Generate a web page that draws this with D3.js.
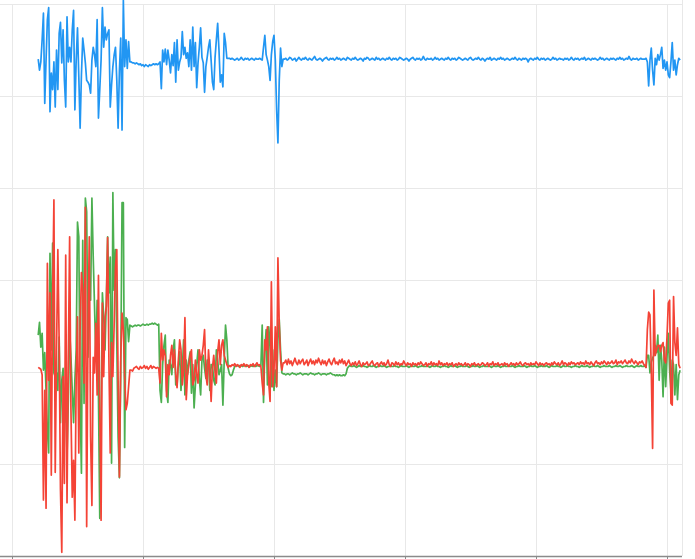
<!DOCTYPE html>
<html><head><meta charset="utf-8">
<script src="https://cdn.jsdelivr.net/npm/d3@7"></script>
<style>html,body{margin:0;padding:0;background:#fff;overflow:hidden}</style>
</head><body><svg id="chart" width="695" height="559"></svg>
<script>
// sample index of the first value in every series
const firstSample = 20;
const xTicks = [0, 100, 200, 300, 400, 500];
const yTicks = [30, 20, 10, 0, -10, -20];

const blue = [
24.0, 22.8, 23.7, 26.1, 29.0, 19.2, 23.9, 28.3, 29.6, 18.3,
22.5, 20.7, 23.7, 18.8, 25.0, 20.7, 26.8, 28.0, 23.6, 27.2,
21.7, 18.8, 28.6, 23.7, 25.3, 23.7, 27.2, 29.3, 18.5, 23.9,
27.4, 22.1, 16.5, 22.3, 26.3, 25.0, 23.6, 21.7, 21.5, 21.2,
20.3, 23.9, 25.3, 24.5, 23.2, 28.3, 17.6, 20.7, 23.9, 29.6,
25.3, 27.5, 26.1, 26.8, 27.2, 18.8, 21.2, 23.2, 24.5, 25.3,
21.7, 16.5, 22.8, 26.3, 16.3, 30.4, 23.2, 26.1, 23.0, 25.9,
23.7,
23.7, 23.6, 23.6, 23.5, 23.6, 23.5, 23.4, 23.5, 23.3, 23.4, 23.2, 23.4, 23.3, 23.2, 23.4, 23.3, 23.4, 23.5, 23.4, 23.5, 23.4, 23.5,
23.7, 20.8, 25.0, 23.7, 25.1, 23.4, 25.0, 23.9, 22.5, 24.5,
23.3, 25.8, 21.5, 26.1, 22.8, 23.7, 24.2, 27.0, 24.5, 25.3,
24.1, 24.7, 23.2, 26.1, 22.8, 27.5, 23.2, 25.8, 20.9, 23.6,
25.3, 27.4, 24.2, 23.6, 20.4, 23.2, 24.2, 25.3, 26.1, 23.9,
21.5, 20.7, 24.2, 26.1, 27.9, 25.0, 21.5, 22.3, 21.0, 26.8,
25.8, 24.1, 24.1,
24.1, 24.0, 24.1, 24.0, 23.9, 24.0, 24.1, 23.9, 24.0, 24.2, 24.0, 23.9, 24.1, 24.0, 24.1, 23.9, 24.0, 24.1, 24.0, 23.9, 24.1, 24.0, 24.0, 24.1, 24.0,
23.9, 25.3, 26.6, 24.5, 23.9, 23.2, 21.7, 24.5, 25.9, 26.6, 23.9, 18.5, 14.9, 21.7, 25.2, 23.2, 24.0,
24.0, 24.1, 23.9, 24.0, 24.2, 24.1, 23.9, 24.0, 24.1, 23.8, 24.0, 24.2, 24.0, 23.9, 24.1, 24.0, 24.2, 24.0, 23.9, 24.1, 24.0, 23.9, 24.1, 24.3, 24.0,
23.9, 24.0, 24.1, 24.0, 23.8, 24.0, 24.1, 24.2, 24.0, 23.9, 24.1, 24.0, 24.1, 23.9, 24.0, 24.2, 24.0, 24.1, 23.9, 24.0, 24.1, 24.0, 23.9, 24.2, 24.1,
24.0, 23.9, 24.1, 24.0, 24.2, 24.0, 23.9, 24.0, 24.1, 24.0, 23.8, 24.1, 24.0, 24.2, 24.1, 23.9, 24.0, 24.1, 24.0, 23.9, 24.2, 24.0, 24.1, 23.9, 24.0,
24.1, 24.0, 23.9, 24.1, 24.0, 24.2, 24.0, 23.9, 24.1, 24.0, 24.1, 23.9, 24.0, 24.2, 24.1, 24.0, 23.9, 24.0, 24.1, 24.0, 23.8, 24.0, 24.1, 24.2, 24.0,
23.9, 24.1, 24.0, 24.1, 23.9, 24.0, 24.3, 24.0, 23.9, 24.1, 24.0, 24.0, 24.1, 23.9, 24.0, 24.2, 24.0, 24.1, 23.9, 24.0, 24.1, 24.0, 23.9, 24.1, 24.0,
24.2, 24.0, 23.9, 24.1, 24.0, 24.1, 23.9, 24.0, 24.2, 24.1, 24.0, 23.9, 24.0, 24.1, 24.0, 23.9, 24.1, 24.2, 24.0, 23.9, 24.0, 24.1, 24.0, 24.2, 24.0,
23.9, 24.1, 24.0, 23.8, 24.0, 24.1, 24.0, 24.2, 23.9, 24.0, 24.1, 24.0, 23.9, 24.1, 24.0, 24.2, 24.0, 24.1, 23.9, 24.0, 24.1, 24.0, 23.9, 24.0, 24.1,
24.0, 24.2, 24.0, 23.9, 24.1, 24.0, 23.9, 24.1, 24.0, 24.1, 24.0, 23.7, 24.0, 24.1, 24.0, 23.9, 24.1, 24.0, 24.2, 24.0, 23.9, 24.1, 24.0, 24.1, 23.9,
24.0, 24.1, 24.0, 23.9, 24.0, 24.2, 24.0, 24.1, 23.9, 24.0, 24.1, 24.0, 24.0, 23.9, 24.1, 24.0, 24.1, 23.9, 24.0, 24.2, 24.0, 23.9, 24.1, 24.0, 24.1,
23.9, 24.0, 24.1, 24.0, 24.2, 23.9, 24.0, 24.1, 24.0, 23.9, 24.1, 24.0, 24.1, 24.0, 23.9, 24.0, 24.2, 24.0, 24.1, 23.9, 24.0, 24.1, 24.0, 23.9, 24.1,
24.0, 24.1, 24.0, 23.9, 24.1, 24.0, 24.2, 24.0, 24.1, 23.9, 24.0, 24.1, 24.0, 24.3, 24.0, 23.9, 24.1, 24.0, 24.0, 24.1, 23.9, 24.0, 24.1, 24.0, 24.0,
24.0, 24.1, 23.7, 21.1, 23.9, 25.2, 22.8, 21.2, 24.1, 23.4, 24.5, 23.9, 24.5, 25.3, 23.0, 23.9, 22.8, 23.7, 22.3, 22.0, 23.7, 25.8, 22.8, 23.9, 22.3, 23.4, 24.1, 23.9
];

const green = [
-6.0, -4.6, -7.3, -5.8, -9.8, -7.9, -12.0, -16.3, -18.8, 2.9,
-7.6, 4.0, -10.1, -10.5, -10.1, -12.0, -6.2, -15.5, -10.9, -9.6,
-15.5, -12.0, -19.2, -13.0, -5.4, -8.4, -12.0, -15.5, -10.9, -7.6,
6.3, 4.7, -13.0, -21.0, 4.3, -13.4, 8.9, 7.4, -8.4, -1.1,
-2.2, 8.9, 2.5, -2.9, -8.4, -2.2, -12.7, -25.9, -15.5, -1.4,
-4.0, -7.6, -2.2, 4.7, -1.4, 2.5, -19.9, 9.5, -1.1, 3.3,
-6.8, -17.1, -21.5, -10.1, 8.4, 8.4, -18.2, -4.1, -4.3, -6.7,
-4.9,
-5.0, -5.1, -5.0, -4.9, -5.0, -4.9, -4.9, -5.0, -4.9, -4.8, -4.9, -4.9, -4.8, -4.9, -4.8, -4.8, -4.7, -4.8, -4.7, -4.8, -4.9, -4.8,
-12.0, -13.3, -9.2, -7.1, -6.0, -12.0, -13.3, -8.7, -9.2, -10.3,
-7.6, -6.5, -11.4, -11.4, -9.2, -7.8, -12.0, -9.8, -6.5, -12.5,
-8.7, -10.3, -8.7, -7.8, -12.3, -9.2, -13.9, -11.4, -9.2, -7.6,
-10.7, -12.5, -8.7, -8.2, -9.6, -10.7, -8.7, -8.7, -12.0, -9.2,
-9.2, -10.9, -11.4, -7.6, -8.7, -10.3, -9.8, -9.2, -13.6, -8.7,
-4.9, -6.5, -9.6,
-10.2, -10.4, -10.3, -9.8, -9.4, -9.3, -9.3, -9.4, -9.3, -9.3, -9.4, -9.3, -9.3, -9.4, -9.3, -9.4, -9.4, -9.3, -9.4, -9.3, -9.4, -9.3, -9.3, -9.4, -9.3,
-4.9, -13.3, -7.6, -5.4, -11.4, -5.1, -7.1, -11.6, -7.6, -12.0, -9.8, -11.6, -6.5, -4.3, -7.6, -10.1, -10.2,
-10.2, -10.3, -10.2, -10.2, -10.3, -10.2, -10.1, -10.2, -10.2, -10.3, -10.2, -10.2, -10.1, -10.2, -10.3, -10.2, -10.2, -10.2, -10.3, -10.2, -10.1, -10.2, -10.2, -10.3,
-10.2, -10.2, -10.1, -10.2, -10.3, -10.2, -10.2, -10.2, -10.3, -10.2, -10.2, -10.1, -10.2, -10.3, -10.3, -10.4, -10.3, -10.4, -10.3, -10.4, -10.4, -10.3, -10.4, -10.2,
-9.6, -9.4, -9.3, -9.4, -9.4, -9.3, -9.4, -9.5, -9.4, -9.3, -9.4, -9.4, -9.3, -9.4, -9.4, -9.5, -9.4, -9.3, -9.4, -9.4, -9.3, -9.4, -9.5, -9.4, -9.4,
-9.3, -9.4, -9.4, -9.3, -9.4, -9.5, -9.4, -9.4, -9.3, -9.4, -9.4, -9.3, -9.4, -9.4, -9.5, -9.4, -9.3, -9.4, -9.4, -9.4, -9.3, -9.4, -9.5, -9.4, -9.3,
-9.4, -9.4, -9.3, -9.4, -9.5, -9.4, -9.4, -9.3, -9.4, -9.4, -9.4, -9.3, -9.4, -9.5, -9.4, -9.3, -9.4, -9.4, -9.3, -9.4, -9.4, -9.5, -9.4, -9.4, -9.3,
-9.4, -9.4, -9.5, -9.4, -9.3, -9.4, -9.4, -9.3, -9.4, -9.5, -9.4, -9.4, -9.3, -9.4, -9.4, -9.4, -9.3, -9.4, -9.5, -9.4, -9.4, -9.3, -9.4, -9.4, -9.3,
-9.4, -9.5, -9.4, -9.4, -9.3, -9.4, -9.4, -9.4, -9.3, -9.4, -9.5, -9.4, -9.3, -9.4, -9.4, -9.3, -9.4, -9.5, -9.4, -9.4, -9.3, -9.4, -9.4, -9.3, -9.4,
-9.4, -9.3, -9.4, -9.5, -9.4, -9.4, -9.3, -9.4, -9.4, -9.4, -9.3, -9.4, -9.5, -9.4, -9.4, -9.3, -9.4, -9.4, -9.3, -9.4, -9.5, -9.4, -9.4, -9.3, -9.4,
-9.4, -9.4, -9.3, -9.4, -9.5, -9.4, -9.3, -9.4, -9.4, -9.4, -9.3, -9.4, -9.4, -9.5, -9.4, -9.3, -9.4, -9.4, -9.3, -9.4, -9.4, -9.5, -9.4, -9.4, -9.3,
-9.4, -9.4, -9.5, -9.4, -9.3, -9.4, -9.4, -9.4, -9.3, -9.4, -9.5, -9.4, -9.4, -9.3, -9.4, -9.4, -9.3, -9.4, -9.5, -9.4, -9.4, -9.3, -9.4, -9.4, -9.4,
-9.3, -9.4, -9.5, -9.4, -9.4, -9.3, -9.4, -9.4, -9.3, -9.4, -9.5, -9.4, -9.4, -9.3, -9.4, -9.4, -9.4, -9.3, -9.4, -9.5, -9.4, -9.3, -9.4, -9.4, -9.3,
-9.4, -9.4,
-9.3, -9.5, -8.2, -8.2, -10.1, -8.9, -8.5, -8.2, -7.1, -7.9, -6.0, -10.9, -7.1, -8.7, -12.7, -7.3, -11.6, -8.4, -5.8, -9.8, -12.0, -8.7, -9.2, -12.5, -9.2, -13.0, -10.3, -9.8
];

const red = [
-9.5, -9.6, -9.7, -10.3, -23.9, -12.0, -24.8, 1.8, -10.9, -1.4,
-21.2, -2.2, 8.7, -20.9, -7.6, 3.3, -6.8, -22.8, -29.6, -10.5,
-22.1, 2.7, -24.2, -8.4, 4.7, -14.1, -23.6, -19.6, -26.1, -10.5,
-4.0, -18.8, -5.4, 0.8, -1.1, -11.2, 7.9, -26.8, -5.4, 4.7,
-17.1, -24.5, -8.4, -10.1, -4.7, -12.5, 0.5, -14.1, -26.1, -2.5,
-10.5, -4.0, -2.9, 4.6, -9.0, -18.8, -6.8, -10.5, -4.7, 1.4,
3.3, -10.9, -21.4, -8.4, -3.6, -5.4, -10.5, -14.1, -13.4, -11.6,
-9.8,
-9.8, -9.9, -9.6, -9.5, -9.4, -9.6, -9.7, -9.4, -9.6, -9.5, -9.3, -9.6, -9.4, -9.7, -9.5, -9.3, -9.6, -9.4, -9.5, -9.6, -9.5, -9.6,
-11.2, -5.8, -8.7, -7.6, -8.2, -12.7, -9.2, -10.3, -8.2, -7.1,
-9.5, -7.6, -10.3, -11.7, -8.7, -6.5, -7.6, -11.4, -9.8, -4.1,
-13.0, -10.3, -9.2, -8.2, -7.6, -11.4, -10.9, -8.7, -10.3, -11.2,
-7.6, -8.7, -8.2, -7.1, -5.4, -10.3, -11.4, -7.6, -9.8, -13.2,
-9.6, -8.2, -10.0, -11.2, -7.8, -6.5, -9.2, -7.1, -6.5, -8.2,
-8.7, -9.2, -9.5,
-9.3, -9.4, -9.2, -9.3, -9.1, -9.4, -9.2, -9.3, -9.5, -9.2, -9.3, -9.1, -9.4, -9.2, -9.3, -9.5, -9.2, -9.3, -9.1, -9.4, -9.2, -9.0, -9.3, -9.2, -9.4,
-11.2, -12.5, -6.5, -7.6, -5.1, -11.2, -13.2, -0.2, -11.6, -9.8, -5.1, -11.6, 2.4, -4.9, -8.7, -9.8, -9.0,
-9.0, -8.7, -9.2, -8.6, -9.1, -8.8, -9.3, -8.9, -8.5, -9.0, -9.2, -8.7, -9.1, -8.8, -8.6, -9.2, -9.0, -8.7, -9.3, -8.9, -8.6, -9.1, -8.8, -9.2, -8.7,
-9.0, -8.5, -8.9, -9.2, -8.7, -9.1, -8.8, -9.3, -8.9, -8.6, -9.0, -9.2, -8.8, -8.5, -9.1, -8.9, -9.2, -8.7, -9.0, -8.6, -9.1, -8.8, -9.3, -9.0, -8.7,
-9.1, -9.3, -9.0, -9.2, -8.9, -9.3, -9.1, -8.8, -9.2, -9.4, -9.0, -9.2, -9.1, -8.9, -9.3, -9.2, -9.0, -8.8, -9.2, -9.3, -9.1, -9.0, -9.4, -9.1, -8.9,
-9.2, -9.0, -9.3, -9.1, -8.7, -9.2, -9.4, -9.0, -9.1, -9.3, -8.9, -9.2, -9.0, -9.3, -9.1, -9.2, -8.8, -9.1, -9.3, -9.0, -9.2, -9.1, -9.4, -9.0, -9.2,
-9.1, -9.3, -9.0, -9.2, -8.9, -9.1, -9.3, -9.2, -9.0, -9.4, -9.1, -9.2, -8.9, -9.3, -9.0, -9.2, -9.1, -9.3, -8.8, -9.2, -9.0, -9.3, -9.1, -9.2, -9.0,
-9.3, -9.1, -9.2, -9.0, -9.4, -9.2, -9.1, -9.3, -9.0, -9.2, -9.1, -9.3, -9.2, -9.0, -9.3, -9.1, -9.2, -9.4, -9.1, -9.2, -9.0, -9.3, -9.2, -9.1, -9.3,
-9.2, -9.0, -9.1, -9.3, -9.2, -9.0, -9.4, -9.1, -9.2, -8.9, -9.3, -9.1, -9.2, -9.0, -9.3, -9.2, -9.1, -9.3, -9.0, -9.2, -9.1, -9.4, -9.2, -9.0, -9.2,
-9.1, -9.3, -9.0, -9.2, -9.1, -8.9, -9.2, -9.3, -9.1, -9.0, -9.2, -9.1, -9.3, -9.0, -9.2, -9.1, -9.2, -8.9, -9.1, -9.3, -9.0, -9.2, -9.1, -9.3, -9.1,
-9.0, -9.2, -9.1, -9.3, -9.0, -9.2, -8.9, -9.1, -9.2, -9.0, -9.3, -9.1, -8.8, -9.2, -9.0, -9.1, -9.3, -9.0, -9.2, -8.9, -9.1, -9.0, -9.2, -9.1, -9.0,
-9.2, -8.9, -9.1, -9.0, -9.2, -8.8, -9.1, -9.0, -9.2, -8.9, -9.1, -9.3, -9.0, -8.8, -9.1, -9.0, -9.2, -8.9, -9.1, -8.8, -9.0, -9.2, -8.9, -9.1, -9.0,
-8.8, -9.1, -9.0, -8.7, -9.2, -8.9, -9.0, -8.8, -9.1, -8.9, -8.7, -9.0, -9.1, -8.8, -9.0, -8.6, -8.9, -9.1, -8.8, -9.0, -9.2, -8.9, -9.0, -8.8, -9.1,
-9.3, -9.5, -5.4, -3.5, -3.8, -9.8, -18.3, -1.1, -8.2, -7.6, -7.1, -7.1, -7.8, -7.1, -6.8, -8.7, -9.0, -6.2, -2.5, -2.2, -13.4, -13.6, -1.8, -6.8, -8.2, -5.2, -9.2, -9.6
];

const svg = d3.select('#chart');
const plotLeft = 0, plotRight = 682, plotTop = 4, plotBottom = 556;
const x = d3.scaleLinear().domain([0, 500]).range([12, 667]);
const y = d3.scaleLinear().domain([-30, 30]).range([plotBottom, plotTop]);

// horizontal grid
const yGrid = svg.append('g')
  .call(d3.axisLeft(y).tickValues(yTicks).tickSize(-(plotRight - plotLeft)).tickFormat(''));
yGrid.select('.domain').remove();
yGrid.selectAll('line').attr('stroke', '#e8e8e8').attr('stroke-width', 1);

// vertical grid
const xGrid = svg.append('g').attr('transform', `translate(0,${plotBottom})`)
  .call(d3.axisBottom(x).tickValues(xTicks).tickSize(-(plotBottom - plotTop)).tickFormat(''));
xGrid.select('.domain').remove();
xGrid.selectAll('line').attr('stroke', '#e8e8e8').attr('stroke-width', 1);

// right border of plot
svg.append('line').attr('x1', plotRight + 0.5).attr('x2', plotRight + 0.5)
  .attr('y1', 0).attr('y2', plotBottom).attr('stroke', '#e8e8e8');

// series
const line = d3.line()
  .x((d, i) => x(firstSample + i))
  .y(d => y(d));

const series = [
  { values: green, color: '#4caf50' },
  { values: red, color: '#f44336' },
  { values: blue, color: '#2196f3' }
];
svg.selectAll('path.series').data(series).enter().append('path')
  .attr('class', 'series')
  .attr('d', d => line(d.values))
  .attr('fill', 'none')
  .attr('stroke', d => d.color)
  .attr('stroke-width', 1.7)
  .attr('stroke-linejoin', 'round');

// bottom axis
const xAxis = svg.append('g').attr('transform', `translate(0,${plotBottom})`)
  .call(d3.axisBottom(x).tickValues(xTicks).tickSize(4).tickSizeOuter(0).tickFormat(''));
xAxis.select('.domain').remove();
xAxis.selectAll('line').attr('stroke', '#8a8a8a');
svg.append('line').attr('x1', plotLeft).attr('x2', plotRight)
  .attr('y1', plotBottom + 0.5).attr('y2', plotBottom + 0.5)
  .attr('stroke', '#8a8a8a').attr('stroke-width', 1.5);
</script></body></html>
